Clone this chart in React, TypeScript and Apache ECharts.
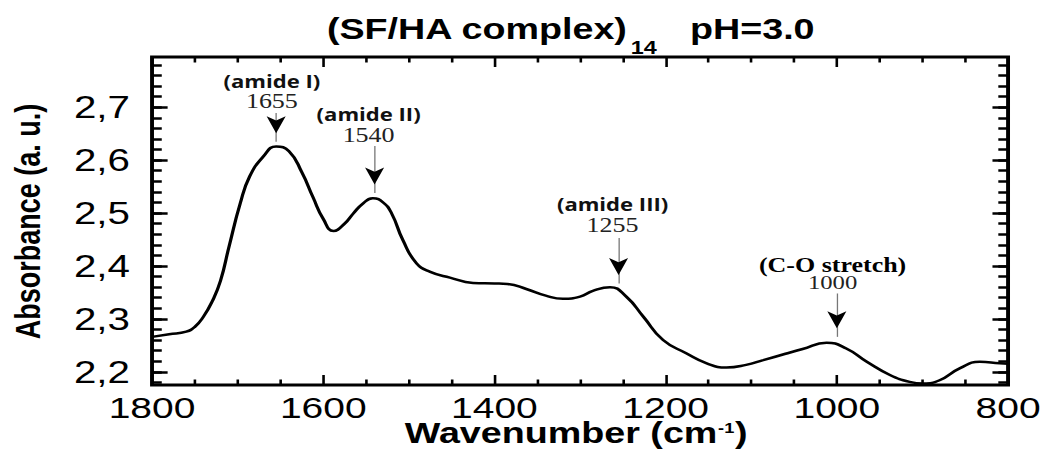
import { useEffect, useRef } from 'react';
import * as echarts from 'echarts';

// FTIR spectrum of the (SF/HA complex)14 film at pH 3.0
const WAVENUMBER = [
  1800, 1780, 1760, 1750, 1740, 1730, 1720, 1710, 1697, 1686,
  1670, 1655, 1640, 1625, 1612, 1600, 1588, 1575, 1565, 1553,
  1542, 1530, 1520, 1507, 1491, 1475, 1452, 1425, 1400, 1385,
  1362, 1340, 1320, 1300, 1285, 1265, 1246, 1226, 1203, 1176,
  1152, 1129, 1106, 1086, 1060, 1040, 1012, 989, 965, 938,
  915, 899, 880, 856, 833, 810, 800,
];
const ABSORBANCE = [
  2.266, 2.271, 2.276, 2.285, 2.304, 2.332, 2.372, 2.437, 2.518, 2.569,
  2.607, 2.626, 2.617, 2.577, 2.53, 2.489, 2.466, 2.48, 2.499, 2.519,
  2.528, 2.52, 2.499, 2.449, 2.405, 2.389, 2.378, 2.368, 2.367, 2.366,
  2.356, 2.344, 2.338, 2.342, 2.353, 2.36, 2.342, 2.304, 2.26, 2.235,
  2.216, 2.208, 2.213, 2.222, 2.234, 2.243, 2.255, 2.244, 2.219, 2.194,
  2.181, 2.178, 2.184, 2.207, 2.219, 2.216, 2.215,
];

// Band assignments with their arrows
const PEAK_NAMES = ['(amide I)', '(amide II)', '(amide III)', '(C-O stretch)'];
const PEAK_WAVENUMBER = [1655, 1540, 1255, 1000];
const ARROW_TIP = [2.635, 2.538, 2.367, 2.266];
const ARROW_TAIL = [2.689, 2.627, 2.453, 2.348];
const LABEL_WAVENUMBER = [1660, 1547, 1262, 1005];
const LABEL_ABSORBANCE = [2.73, 2.667, 2.497, 2.385];

// Axis ticks
const Y_MAJOR = [2.2, 2.3, 2.4, 2.5, 2.6, 2.7];
const Y_LABELS = ['2,2', '2,3', '2,4', '2,5', '2,6', '2,7'];
const Y_MINOR = [
  2.18, 2.2, 2.22, 2.24, 2.26, 2.28, 2.3, 2.32, 2.34, 2.36, 2.38, 2.4,
  2.42, 2.44, 2.46, 2.48, 2.5, 2.52, 2.54, 2.56, 2.58, 2.6, 2.62, 2.64,
  2.66, 2.68, 2.7, 2.72, 2.74, 2.76, 2.78,
];
const X_MIN = 800;
const X_MAX = 1800;
const X_STEP = 200;
const Y_MIN = 2.175;
const Y_MAX = 2.795;

// The figure is drawn narrow and stretched horizontally
const BASE_W = 805;
const BASE_H = 449;
const STRETCH = 1046 / BASE_W;

const SANS = 'Liberation Sans, Arial, sans-serif';
const SERIF = 'Liberation Serif, Times New Roman, serif';

function textWidth(text: string, font: string): number {
  const ctx = document.createElement('canvas').getContext('2d');
  if (!ctx) return text.length * 16;
  ctx.font = font;
  return ctx.measureText(text).width;
}

export default function App() {
  const ref = useRef<HTMLDivElement>(null);

  useEffect(() => {
    if (!ref.current) return;
    const chart = echarts.init(ref.current, undefined, { renderer: 'svg' });

    const tickStyle = (w: number) => ({ color: '#000', width: w });

    const xAxisBase = (position: 'bottom' | 'top', labels: boolean) => ({
      type: 'value',
      position,
      min: X_MIN,
      max: X_MAX,
      interval: X_STEP,
      inverse: true,
      axisLine: { show: false, onZero: false },
      axisTick: { show: true, inside: true, length: 10, lineStyle: tickStyle(2) },
      minorTick: { show: true, splitNumber: 4, length: 5.5, lineStyle: tickStyle(2) },
      axisLabel: {
        show: labels,
        fontSize: 30,
        lineHeight: 22,
        fontFamily: SANS,
        color: '#000',
        margin: 11.5,
        formatter: (v: number) => String(v),
      },
      splitLine: { show: false },
      minorSplitLine: { show: false },
    });

    const yAxisBase = (
      position: 'left' | 'right',
      values: number[],
      len: number,
      labels: boolean,
    ) => ({
      type: 'value',
      position,
      min: Y_MIN,
      max: Y_MAX,
      axisLine: { show: false, onZero: false },
      axisTick: {
        show: true,
        inside: true,
        length: len,
        customValues: values,
        lineStyle: tickStyle(2.5),
      },
      axisLabel: {
        show: labels,
        customValues: values,
        fontSize: 31,
        fontFamily: SANS,
        color: '#000',
        margin: 17,
        formatter: (v: number) => {
          const i = Y_MAJOR.findIndex((m) => Math.abs(m - v) < 1e-6);
          return i >= 0 ? Y_LABELS[i] : '';
        },
      },
      splitLine: { show: false },
    });

    const data = WAVENUMBER.map((w, i) => [w, ABSORBANCE[i]]);

    const arrowHeads = PEAK_WAVENUMBER.map((w, i) => ({
      coord: [w, ARROW_TIP[i]],
      symbol: 'arrow',
      symbolSize: [11, 17],
      symbolRotate: 180,
      symbolOffset: [0, '-50%'],
      itemStyle: { color: '#000' },
      label: { show: false },
    }));

    const peakLabels = PEAK_NAMES.map((name, i) => {
      const isCO = i === 3;
      const lh = isCO ? 18 : 20;
      return {
        coord: [LABEL_WAVENUMBER[i], LABEL_ABSORBANCE[i]],
        symbol: 'circle',
        symbolSize: 1,
        itemStyle: { color: 'rgba(0,0,0,0)' },
        label: {
          show: true,
          position: 'inside',
          formatter: `{t|${name}}\n{n|${PEAK_WAVENUMBER[i]}}`,
          rich: {
            t: isCO
              ? { fontFamily: SERIF, fontWeight: 'bold', fontSize: 20, color: '#000', lineHeight: lh, align: 'center' }
              : { fontFamily: 'Open Sans, Noto Sans, sans-serif', fontWeight: 'bold', fontSize: 17, color: '#111', lineHeight: lh, align: 'center' },
            n: { fontFamily: SERIF, fontSize: isCO ? 19 : 20, color: '#222', lineHeight: lh, align: 'center' },
          },
        },
      };
    });

    // x-axis title pieces: main text, superscript, closing parenthesis
    const xTitleX = 311.5;
    const xTitleY = 433.5;
    const mainFont = `bold 29px ${SANS}`;
    const supFont = `bold 14px ${SANS}`;
    const w1 = textWidth('Wavenumber (cm', mainFont);
    const w2 = textWidth('-1', supFont);

    const bold = (size: number) => ({
      fontSize: size,
      fontWeight: 'bold',
      fontFamily: SANS,
      fill: '#000',
      align: 'left',
      verticalAlign: 'middle',
    });

    chart.setOption({
      animation: false,
      backgroundColor: '#fff',
      grid: {
        left: 117,
        right: 29.2,
        top: 57,
        bottom: 64,
        show: true,
        borderColor: '#000',
        borderWidth: 3,
        backgroundColor: 'transparent',
      },
      xAxis: [xAxisBase('bottom', true), xAxisBase('top', false)],
      yAxis: [
        yAxisBase('left', Y_MAJOR, 12, true),
        yAxisBase('left', Y_MINOR, 7.5, false),
        yAxisBase('right', Y_MAJOR, 12, false),
        yAxisBase('right', Y_MINOR, 7.5, false),
      ],
      series: [
        {
          type: 'line',
          xAxisIndex: 0,
          yAxisIndex: 0,
          data,
          smooth: 0.5,
          showSymbol: false,
          silent: true,
          lineStyle: { color: '#000', width: 2.5 },
          markLine: {
            silent: true,
            symbol: ['none', 'none'],
            label: { show: false },
            lineStyle: { color: '#777', width: 1, type: 'solid' },
            data: PEAK_WAVENUMBER.map((w, i) => [
              { coord: [w, ARROW_TAIL[i]] },
              { coord: [w, ARROW_TIP[i]] },
            ]),
          },
          markPoint: {
            silent: true,
            data: [...arrowHeads, ...peakLabels],
          },
        },
      ],
      graphic: [
        { type: 'text', x: 251.6, y: 29, style: { text: '(SF/HA complex)', ...bold(29) } },
        { type: 'text', x: 485.5, y: 47.5, style: { text: '14', ...bold(18) } },
        { type: 'text', x: 531, y: 29, style: { text: 'pH=3.0', ...bold(29) } },
        { type: 'text', x: xTitleX, y: xTitleY, style: { text: 'Wavenumber (cm', ...bold(29) } },
        { type: 'text', x: xTitleX + w1 + 0.5, y: xTitleY - 6, style: { text: '-1', ...bold(14) } },
        { type: 'text', x: xTitleX + w1 + w2 + 1, y: xTitleY, style: { text: ')', ...bold(29) } },
        {
          type: 'text',
          x: 21.5,
          y: 221.5,
          rotation: Math.PI / 2,
          style: { text: 'Absorbance (a. u.)', ...bold(27), align: 'center' },
        },
      ],
    });

    return () => chart.dispose();
  }, []);

  return (
    <div
      style={{
        position: 'fixed',
        left: 0,
        top: 0,
        width: 1046,
        height: 449,
        overflow: 'hidden',
        background: '#fff',
      }}
    >
      <div
        ref={ref}
        style={{
          width: BASE_W,
          height: BASE_H,
          transform: `scale(${STRETCH}, 1)`,
          transformOrigin: '0 0',
        }}
      />
    </div>
  );
}
